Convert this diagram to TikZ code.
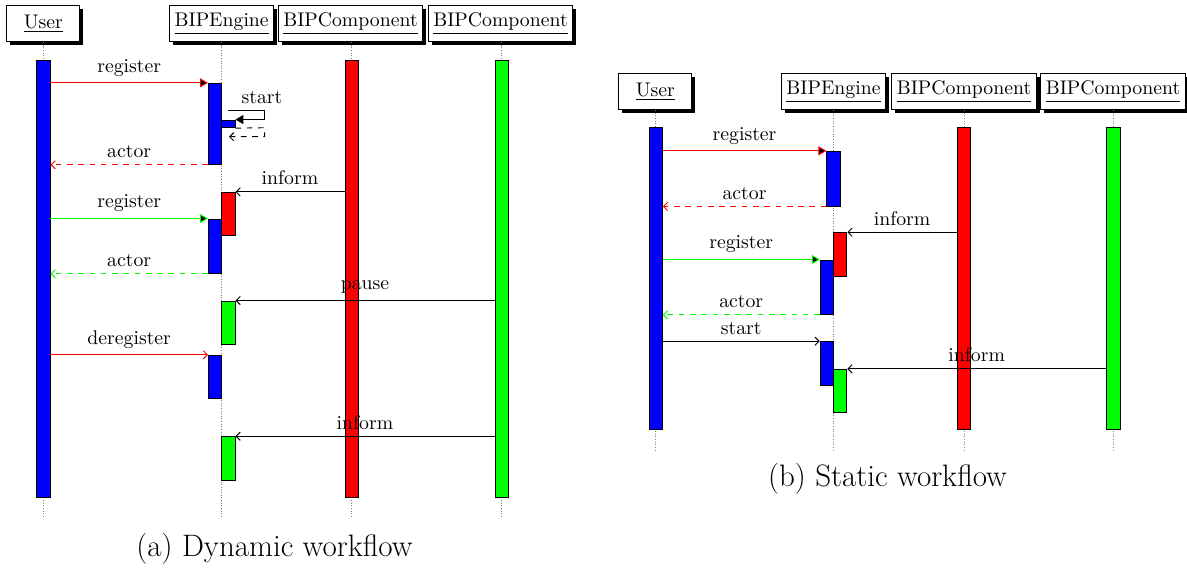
\documentclass[tikz,border=0pt]{standalone}
\usepackage{fontspec}
\usetikzlibrary{arrows.meta,shadows,fit}
\begin{document}
\begin{tikzpicture}[x=0.532pt, y=-0.532pt,
  font=\fontsize{10.5}{12.6}\selectfont,
  hdr/.style={draw, fill=white, line width=0.5pt, minimum height=19.1pt,
    inner xsep=2.7pt, inner ysep=0pt,
    drop shadow={shadow xshift=1.9pt, shadow yshift=-1.9pt, fill=black, opacity=1}},
  life/.style={densely dotted, gray, line width=0.4pt},
  act/.style={draw, inner sep=0pt, line width=0.5pt},
  msg/.style={line width=0.5pt, -{Straight Barb[length=2.2pt,width=4.4pt]}},
  call/.style={line width=0.5pt, -{Triangle[length=4.2pt,width=4.8pt,fill=black]}},
  ret/.style={msg, dashed},
  lbl/.style={midway, above, text=black},
  captext/.style={font=\fontsize{16.5}{19.8}\selectfont}]
\useasboundingbox (0,0) rectangle (1187,569);

% ---------------- (a) dynamic workflow ----------------
\node[hdr, minimum width=38.8pt] (aHU) at (43.3,23.7) {\underline{User}};
\node[hdr] (aHE) at (221.7,23.7) {\underline{BIPEngine}};
\node[hdr] (aHC1) at (350.5,23.7) {\underline{BIPComponent}};
\node[hdr] (aHC2) at (500.5,23.7) {\underline{BIPComponent}};
\coordinate (aEnd) at (0,516.7);
\foreach \h/\x in {aHU/43.3,aHE/221.7,aHC1/351.7,aHC2/501.7}
  \draw[life] (\h.south -| \x,0) -- (\x,0 |- aEnd);

% activations
\node[act, fill=blue,  fit={(36.7,60) (50,497.7)}] (aU) {};
\node[act, fill=red,   fit={(345,60) (358.4,497.7)}] (aC1) {};
\node[act, fill=green, fit={(495,60) (508.4,497.7)}] (aC2) {};
\node[act, fill=blue,  fit={(208.4,83.3) (221.7,164.3)}] (aE1) {};
\node[act, fill=blue,  fit={(221.7,120) (235,127.7)}] (aS) {};
\node[act, fill=red,   fit={(221.7,192.3) (235,235.7)}] (aE2) {};
\node[act, fill=blue,  fit={(208.4,219) (221.7,273.3)}] (aE3) {};
\node[act, fill=green, fit={(221.7,301) (235,344.3)}] (aE4) {};
\node[act, fill=blue,  fit={(208.4,355.3) (221.7,398.7)}] (aE5) {};
\node[act, fill=green, fit={(221.7,436.7) (235,480.3)}] (aE6) {};

% messages
\draw[call, red] (aU.east |- aE1.north) -- (aE1.north west) node[lbl] {register};
\coordinate (aSf) at (228.3,110.7);
\coordinate (aSt) at (229,136.7);
\draw[call] (aSf) -- (264.7,110.7) |- (aS.north east);
\node[above] (aSl) at (262,110.7) {start};
\draw[ret] (aS.south east) -- (264.7,127.7) |- (aSt);
\draw[ret, red] (aE1.south west) -- (aU.east |- aE1.south) node[lbl] {actor};
\draw[msg] (aC1.west |- aE2.north) -- (aE2.north east) node[lbl] {inform};
\draw[call, green] (aU.east |- aE3.north) -- (aE3.north west) node[lbl] {register};
\draw[ret, green] (aE3.south west) -- (aU.east |- aE3.south) node[lbl] {actor};
\draw[msg] (aC2.west |- aE4.north) -- (aE4.north east) node[lbl] {pause};
\draw[msg, red] (aU.east |- aE5.north) -- (aE5.north west) node[lbl] {deregister};
\draw[msg] (aC2.west |- aE6.north) -- (aE6.north east) node[lbl] {inform};

\node[captext] (aCap) at (274.5,548.5) {(a) Dynamic workflow};

% ---------------- (b) static workflow ----------------
\node[hdr, minimum width=38.8pt] (bHU) at (655.3,91.7) {\underline{User}};
\node[hdr] (bHE) at (833.5,91.7) {\underline{BIPEngine}};
\node[hdr] (bHC1) at (964,91.7) {\underline{BIPComponent}};
\node[hdr] (bHC2) at (1113,91.7) {\underline{BIPComponent}};
\coordinate (bEnd) at (0,450);
\foreach \h/\x in {bHU/655.3,bHE/833.5,bHC1/964,bHC2/1113.3}
  \draw[life] (\h.south -| \x,0) -- (\x,0 |- bEnd);

\node[act, fill=blue,  fit={(649,127.7) (662.3,429.5)}] (bU) {};
\node[act, fill=red,   fit={(957.3,127.7) (970.7,429.5)}] (bC1) {};
\node[act, fill=green, fit={(1106.7,127.7) (1120,429.5)}] (bC2) {};
\node[act, fill=blue,  fit={(826.8,151.3) (840.2,206)}] (bE1) {};
\node[act, fill=red,   fit={(833.5,232.7) (846.8,276.7)}] (bE2) {};
\node[act, fill=blue,  fit={(820.2,260) (833.5,314.3)}] (bE3) {};
\node[act, fill=blue,  fit={(820.2,341.7) (833.5,385)}] (bE4) {};
\node[act, fill=green, fit={(833.5,369.3) (846.8,412.3)}] (bE5) {};

\draw[call, red] (bU.east |- bE1.north) -- (bE1.north west) node[lbl] {register};
\draw[ret, red] (bE1.south west) -- (bU.east |- bE1.south) node[lbl] {actor};
\draw[msg] (bC1.west |- bE2.north) -- (bE2.north east) node[lbl] {inform};
\draw[call, green] (bU.east |- bE3.north) -- (bE3.north west) node[lbl] {register};
\draw[ret, green] (bE3.south west) -- (bU.east |- bE3.south) node[lbl] {actor};
\draw[msg] (bU.east |- bE4.north) -- (bE4.north west) node[lbl] {start};
\draw[msg] (bC2.west |- bE5.north) -- (bE5.north east) node[lbl] {inform};

\node[captext] (bCap) at (887.5,478.5) {(b) Static workflow};
\end{tikzpicture}
\end{document}
